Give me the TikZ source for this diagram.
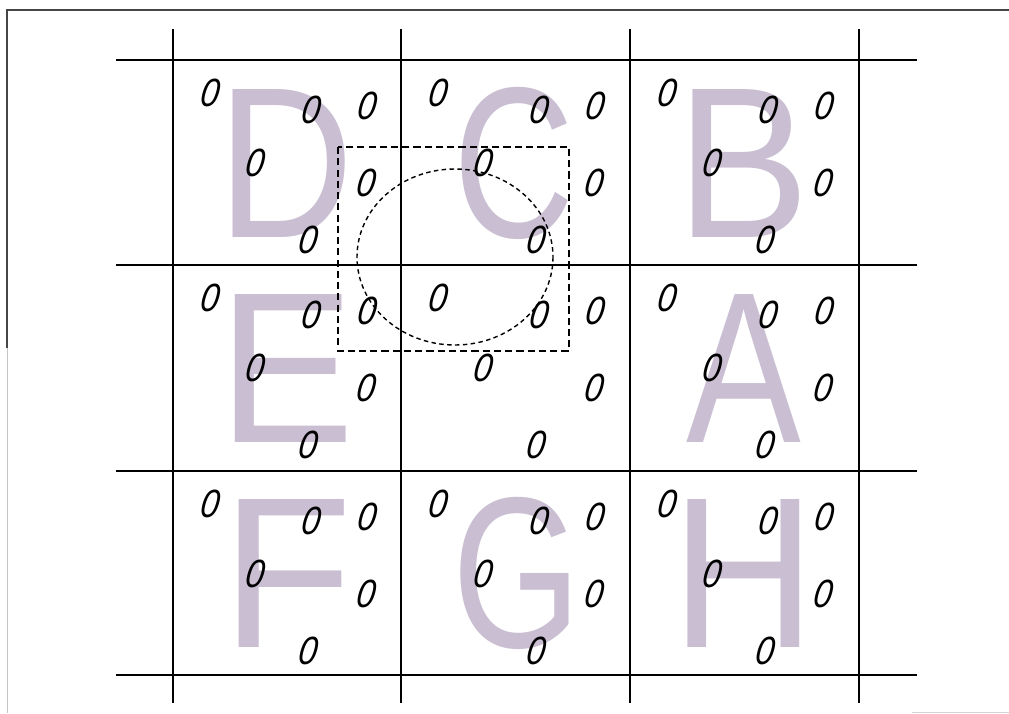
\documentclass[tikz,border=0pt]{standalone}
\usepackage{fontspec}
\setmainfont{Liberation Sans}
\usetikzlibrary{calc}

\definecolor{lettergray}{RGB}{201,190,210}
\definecolor{framegray}{RGB}{70,70,70}
\tikzset{
  gridline/.style={line width=0.9pt, black},
  bigletter/.style={inner sep=0pt, text=lettergray, font=\fontsize{153}{153}\selectfont},
  nought/.style={inner sep=0pt, font=\itshape\fontsize{28}{28}\selectfont, xscale=0.85, xslant=0.17, transform shape},
  boxdash/.style={line width=0.85pt, dash pattern=on 5pt off 3pt},
  circdash/.style={line width=1pt, dash pattern=on 3.2pt off 2.4pt}
}

\begin{document}
\begin{tikzpicture}[x=0.025cm, y=-0.025cm]
    \useasboundingbox (0,0) rectangle (1009,713);

    % Page frame of the scan
    \draw[framegray, line width=0.8pt] (1009,10) -- (7,10) -- (7,348);
    \draw[gray!45, line width=0.7pt] (7,348) -- (7,713);
    \draw[gray!35, line width=0.7pt] (912,712) -- (1009,712);

    % Big grey letters, one per cell (centre cell left empty)
    \foreach \ch/\lx/\ly/\w in {D/286/163/0.88, C/514/163/0.78, B/743/163/0.93,
                                E/287/368/0.95, A/744/368/0.8,
                                F/287/573/1, G/517/573/0.77, H/744/573/0.93}
        \node[bigletter, xscale=\w, transform shape] (letter-\ch) at (\lx,\ly) {\ch};

    % Draw the grid
    \foreach \gy in {60,265,471,675}
        \draw[gridline] (116,\gy) -- (917,\gy);
    \foreach \gx in {173,401,630,859}
        \draw[gridline] (\gx,29) -- (\gx,703);

    % Six noughts in every cell, same pattern
    \foreach \cx in {173,401,630}
        \foreach \cy in {60,265,471}
            \foreach \dx/\dy [count=\k] in {38/33, 139/50, 195/46, 83/103, 194/123, 136/180}
                \node[nought] (zero-\cx-\cy-\k) at (\cx+\dx,\cy+\dy) {0};

    % Dashed window and dashed circle over the centre
    \draw[boxdash] (338,147) rectangle (569,351);
    \draw[circdash] (455,257) ellipse [x radius=98, y radius=88];
\end{tikzpicture}
\end{document}
